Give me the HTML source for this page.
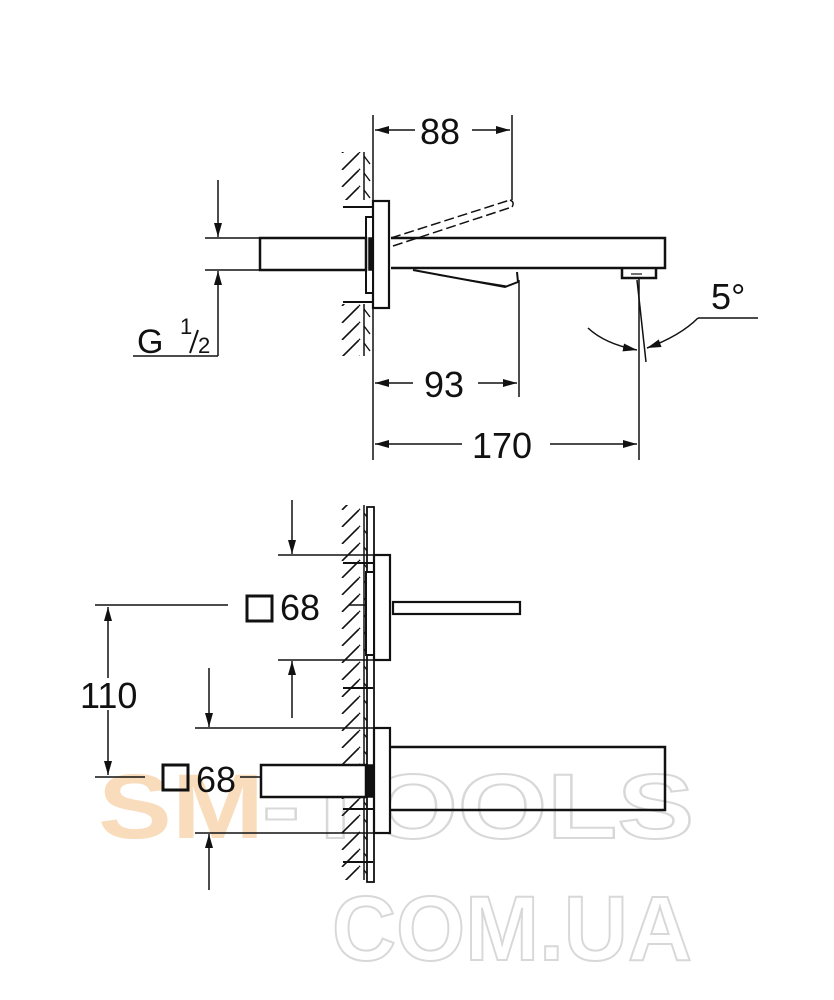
<!DOCTYPE html>
<html><head><meta charset="utf-8"><style>
html,body{margin:0;padding:0;background:#fff;width:834px;height:1000px;overflow:hidden}
svg{display:block}
text{font-family:"Liberation Sans",sans-serif;fill:#111}
</style></head><body>
<svg width="834" height="1000" viewBox="0 0 834 1000" xmlns="http://www.w3.org/2000/svg">
<defs>
<pattern id="h" x="341" y="0" width="30" height="17" patternUnits="userSpaceOnUse">
<line x1="1" y1="17" x2="18" y2="0" stroke="#111" stroke-width="1.6"/>
<line x1="18" y1="17" x2="19" y2="16" stroke="#111" stroke-width="1.6"/>
<line x1="23" y1="3" x2="29" y2="11" stroke="#111" stroke-width="1.4"/>
</pattern>
<marker id="a" viewBox="0 0 10 10" refX="10" refY="5" markerWidth="14" markerHeight="8" markerUnits="userSpaceOnUse" orient="auto-start-reverse" preserveAspectRatio="none"><path d="M0,0 L10,5 L0,10 z" fill="#111"/></marker>
</defs>
<!-- watermark -->
<g font-family="Liberation Sans,sans-serif" font-weight="bold">
<text x="98" y="838" font-size="92" style="fill:#f9dcbc" textLength="166" lengthAdjust="spacingAndGlyphs">SM</text>
<text x="262" y="838" font-size="92" style="fill:none;stroke:#d8d8d8;stroke-width:2" textLength="432" lengthAdjust="spacingAndGlyphs">-TOOLS</text>
<text x="332" y="960" font-size="92" style="fill:none;stroke:#d8d8d8;stroke-width:2" textLength="360" lengthAdjust="spacingAndGlyphs">COM.UA</text>
</g>
<g stroke="#111" fill="none" stroke-width="1.5">
<!-- TOP VIEW -->
<rect x="341" y="152" width="30" height="48" fill="url(#h)" stroke="none"/>
<rect x="341" y="304" width="30" height="52" fill="url(#h)" stroke="none"/>
<line x1="364" y1="152" x2="364" y2="200"/>
<line x1="364" y1="304" x2="364" y2="356"/>
<line x1="373" y1="115" x2="373" y2="460"/>
<line x1="343" y1="207" x2="373" y2="207" stroke-width="2"/>
<line x1="343" y1="302" x2="373" y2="302" stroke-width="2"/>
<rect x="373" y="201" width="16" height="107" stroke-width="2.2" fill="#fff"/>
<rect x="366" y="217" width="7" height="76" stroke-width="2" fill="#fff"/>
<rect x="260" y="238" width="106" height="32" stroke-width="2.5" fill="#fff"/>
<rect x="369" y="238" width="4" height="32" fill="#111"/>
<path d="M391,238 H665 V268 H391" stroke-width="2.5"/>
<path d="M413,270 L505,287 L518,282 L517,272" stroke-width="2"/>
<path d="M438,275 L506,286" stroke-width="1.2"/>
<path d="M622,268 V278 H656 V268" stroke-width="2.5"/>
<path d="M631,274 H642" stroke-width="1.2"/>
<g stroke-dasharray="10,4">
<path d="M391,238 L510,200"/>
<path d="M393,246 L512,207"/>
</g>
<path d="M510,200 Q515,202 512,207"/>
<!-- 88 -->
<line x1="512" y1="115" x2="512" y2="200"/>
<line x1="375" y1="130" x2="415" y2="130" marker-start="url(#a)"/>
<line x1="472" y1="130" x2="510" y2="130" marker-end="url(#a)"/>
<!-- 93 -->
<line x1="519" y1="280" x2="519" y2="397"/>
<line x1="375" y1="383" x2="413" y2="383" marker-start="url(#a)"/>
<line x1="478" y1="383" x2="517" y2="383" marker-end="url(#a)"/>
<!-- 170 -->
<line x1="639" y1="278" x2="639" y2="460"/>
<line x1="646" y1="362" x2="637" y2="280"/>
<line x1="375" y1="444" x2="462" y2="444" marker-start="url(#a)"/>
<line x1="550" y1="444" x2="637" y2="444" marker-end="url(#a)"/>
<!-- 5° -->
<path d="M588,328 Q605,344 637,350" marker-end="url(#a)"/>
<path d="M698,318 Q680,336 647,348" marker-end="url(#a)"/>
<line x1="698" y1="318" x2="758" y2="318"/>
<!-- G1/2 -->
<line x1="205" y1="238" x2="260" y2="238"/>
<line x1="205" y1="270" x2="260" y2="270"/>
<line x1="218" y1="180" x2="218" y2="237" marker-end="url(#a)"/>
<line x1="218" y1="356" x2="218" y2="271" marker-end="url(#a)"/>
<line x1="133" y1="356" x2="218" y2="356"/>

<!-- BOTTOM VIEW -->
<rect x="341" y="505" width="30" height="375" fill="url(#h)" stroke="none"/>
<line x1="364" y1="505" x2="364" y2="880"/>
<rect x="367" y="507" width="7" height="375" stroke-width="1.8" fill="#fff"/>
<line x1="343" y1="563" x2="373" y2="563" stroke-width="2"/>
<line x1="343" y1="688" x2="373" y2="688" stroke-width="2"/>
<line x1="343" y1="809" x2="373" y2="809" stroke-width="2"/>
<line x1="343" y1="862" x2="373" y2="862" stroke-width="2"/>
<rect x="374" y="555" width="16" height="105" stroke-width="2.2" fill="#fff"/>
<rect x="366" y="572" width="8" height="83" stroke-width="2" fill="#fff"/>
<rect x="393" y="602" width="127" height="12" stroke-width="2.2"/>
<line x1="278" y1="555" x2="374" y2="555"/>
<line x1="278" y1="660" x2="374" y2="660"/>
<line x1="292" y1="500" x2="292" y2="554" marker-end="url(#a)"/>
<line x1="292" y1="718" x2="292" y2="661" marker-end="url(#a)"/>
<rect x="247" y="596" width="25" height="25" stroke-width="3"/>
<line x1="95" y1="605" x2="228" y2="605"/>
<line x1="349" y1="605" x2="366" y2="605"/>
<!-- 110 -->
<line x1="108" y1="607" x2="108" y2="678" marker-start="url(#a)"/>
<line x1="108" y1="710" x2="108" y2="775" marker-end="url(#a)"/>
<line x1="95" y1="777" x2="145" y2="777"/>
<!-- lower -->
<rect x="374" y="728" width="16" height="105" stroke-width="2.2" fill="#fff"/>
<rect x="261" y="765" width="105" height="32" stroke-width="2.5" fill="#fff"/>
<rect x="366" y="765" width="8" height="32" fill="#111"/>
<path d="M390,747 H665 V810 H390" stroke-width="2.5"/>
<line x1="195" y1="728" x2="374" y2="728"/>
<line x1="195" y1="833" x2="374" y2="833"/>
<line x1="209" y1="668" x2="209" y2="727" marker-end="url(#a)"/>
<line x1="209" y1="890" x2="209" y2="834" marker-end="url(#a)"/>
<rect x="163" y="765" width="25" height="25" stroke-width="3"/>
<line x1="240" y1="777" x2="261" y2="777"/>
</g>
<g font-size="36">
<text x="420" y="144">88</text>
<text x="424" y="397">93</text>
<text x="472" y="458">170</text>
<text x="711" y="309">5°</text>
<text x="280" y="620">68</text>
<text x="80" y="708">110</text>
<text x="196" y="792">68</text>
</g>
<text x="137" y="353" font-size="34">G</text>
<text x="180" y="334" font-size="22">1</text>
<line x1="190" y1="353" x2="198" y2="330" stroke="#111" stroke-width="2"/>
<text x="198" y="353" font-size="22">2</text>
</svg>
</body></html>
